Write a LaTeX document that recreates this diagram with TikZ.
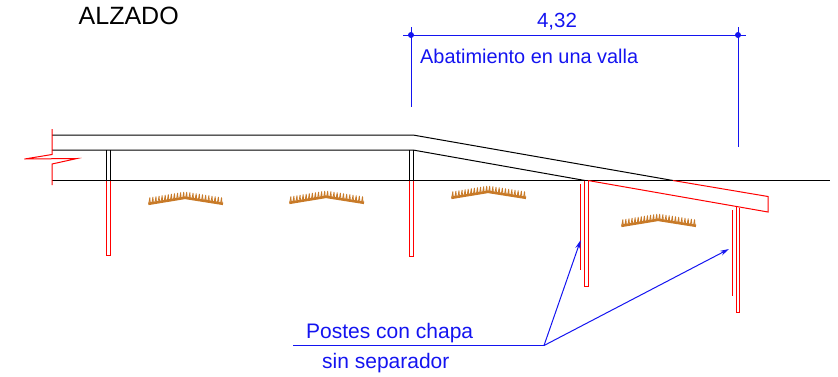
\documentclass[tikz,border=0pt]{standalone}
\usepackage{fontspec}
\setmainfont{Liberation Sans}
\usetikzlibrary{arrows.meta}
\definecolor{dimblue}{RGB}{20,20,240}
\definecolor{hedgec}{RGB}{200,122,40}
\tikzset{
  x=1pt,y=-1pt,
  beam/.style={black,line width=1pt},
  redline/.style={red,line width=1pt},
  blueline/.style={dimblue,line width=1pt},
  blueleader/.style={blueline,-{Stealth[length=9pt,width=5pt]}},
  dimdot/.style={circle,fill=dimblue,inner sep=0pt,minimum size=6pt},
  bluetext/.style={text=dimblue,inner sep=0pt},
}
\newcommand{\hedgeat}[2]{%
  \begin{scope}[shift={(#1,#2)}]
    \draw[hedgec,line width=2.6pt] (0.5,6.8) -- (37,0.8) -- (75,6.8);
    \foreach \i in {0,...,11}{
      \pgfmathsetmacro{\xa}{(\i+0.2)*37/12}
      \pgfmathsetmacro{\ya}{7.5-6*\i/12}
      \draw[hedgec,line width=0.8pt] (\xa,\ya) -- ++(1.2,-7) (\xa+1.8,\ya-0.3) -- ++(-0.6,-6.8);
      \pgfmathsetmacro{\xb}{37.5+\i*38/12}
      \pgfmathsetmacro{\yb}{1.5+6*\i/12}
      \draw[hedgec,line width=0.8pt] (\xb,\yb) -- ++(1.2,-6.5) (\xb+1.8,\yb+0.3) -- ++(-0.6,-6.8);
    }
  \end{scope}}
\begin{document}
\begin{tikzpicture}
\useasboundingbox (0,0) rectangle (838,376);
\draw[beam] (52,180.5) -- (830,180.5);
\draw[beam] (52,135) -- (413,135) -- (673,180.5);
\draw[beam] (52,150) -- (413,150) -- (585,180.5);
\draw[beam] (106.7,150) -- (106.7,180.5) (110.7,150) -- (110.7,180.5);
\draw[beam] (409.3,150) -- (409.3,180.5) (413.3,150) -- (413.3,180.5);
\draw[redline] (52,129) -- (52,154.5) -- (24.5,159) -- (77,158.5) -- (52,164) -- (52,185);
\draw[redline] (673,180.5) -- (768,196.5) -- (768,212) -- (588,180.5);
\draw[redline] (106.7,180.5) -- (106.7,255.7) -- (110.7,255.7) -- (110.7,180.5);
\draw[redline] (409.3,180.5) -- (409.3,256) -- (413.3,256) -- (413.3,180.5);
\draw[redline] (584.7,180.5) -- (584.7,286.5) -- (588.7,286.5) -- (588.7,180.5);
\draw[redline] (580.7,184) -- (580.7,270);
\draw[redline] (736,206.7) -- (736,312.7) -- (739.7,312.7) -- (739.7,208);
\draw[redline] (732,210) -- (732,295.5);
\hedgeat{148}{197}
\hedgeat{289}{196}
\hedgeat{451}{191}
\hedgeat{621}{219}
\coordinate (dl) at (403,35);
\coordinate (dr) at (746,35);
\node[dimdot] (d1) at (411,35) {};
\node[dimdot] (d2) at (738,35) {};
\coordinate (e1a) at (411,27);
\coordinate (e1b) at (411,107);
\coordinate (e2a) at (738,27);
\coordinate (e2b) at (738,147);
\draw[blueline] (dl) -- (dr);
\draw[blueline] (e1a) -- (e1b);
\draw[blueline] (e2a) -- (e2b);
\node[bluetext,anchor=base,font=\fontsize{20.5pt}{22pt}\selectfont] (dim) at (557,27.3) {4,32};
\node[bluetext,anchor=base west,font=\fontsize{19.9pt}{21pt}\selectfont] (aba) at (420,63.5) {Abatimiento en una valla};
\node[anchor=base west,inner sep=0pt,font=\fontsize{25pt}{26pt}\selectfont] (alz) at (78.5,24) {ALZADO};
\node[bluetext,anchor=base west,font=\fontsize{21pt}{22pt}\selectfont] (pos) at (306,338.5) {Postes con chapa};
\node[bluetext,anchor=base west,font=\fontsize{21pt}{22pt}\selectfont] (sin) at (322,368) {sin separador};
\coordinate (la) at (293,345.5);
\coordinate (lb) at (544,345.5);
\coordinate (t1) at (580.7,240);
\coordinate (t2) at (729,249);
\draw[blueline] (la) -- (lb);
\draw[blueleader] (lb) -- (t1);
\draw[blueleader] (lb) -- (t2);
\end{tikzpicture}
\end{document}
